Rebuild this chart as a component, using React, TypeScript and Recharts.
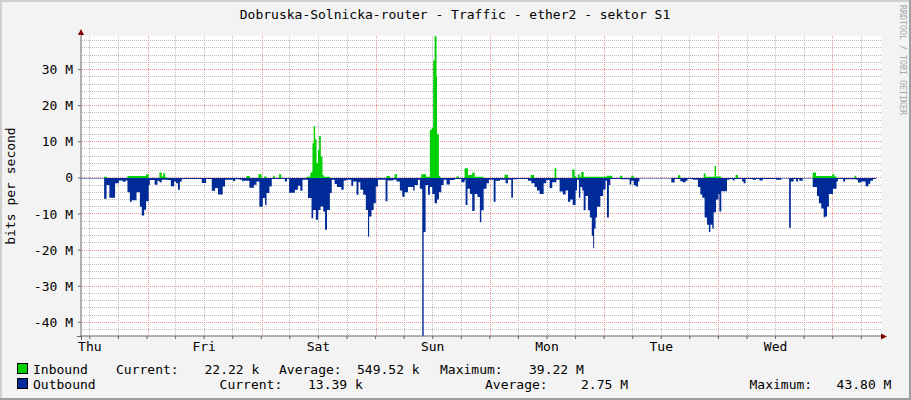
import React from 'react';
import { ComposedChart, Area, XAxis, YAxis, CartesianGrid } from 'recharts';

// time is hours since Thursday 00:00, values in Mbit/s
const dayLabels = ['Thu', 'Fri', 'Sat', 'Sun', 'Mon', 'Tue', 'Wed'];
const dayNoonHours = [12, 36, 60, 84, 108, 132, 156];
const xTicks = [12, 18, 24, 30, 36, 42, 48, 54, 60, 66, 72, 78, 84, 90, 96, 102, 108, 114, 120, 126, 132, 138, 144, 150, 156, 162, 168, 174];
const xMajorGrid = [24, 48, 72, 96, 120, 144, 168];
const xMinorGrid = [12, 18, 30, 36, 42, 54, 60, 66, 78, 84, 90, 102, 108, 114, 126, 132, 138, 150, 156, 162, 174];
const yTicks = [-40, -30, -20, -10, 0, 10, 20, 30];
const yMinorGrid = [-42, -38, -36, -34, -32, -28, -26, -24, -22, -18, -16, -14, -12, -8, -6, -4, -2, 2, 4, 6, 8, 12, 14, 16, 18, 22, 24, 26, 28, 32, 34, 36, 38];

const inboundSteps: [number, number][] = [
  [10.14, 0], [15.0, 0.3], [15.6, 0], [19.9, 0.5], [23.8, 1.0], [24.35, 0],
  [26.6, 1.5], [27.1, 0.4], [27.4, 1.3], [27.8, 0.2], [28.3, 0],
  [44.9, 0.5], [45.6, 0], [47.4, 1.0], [48.05, 0], [48.6, 0.4], [49.1, 0],
  [50.5, 0.6], [50.85, 0], [51.75, 1.0], [52.2, 0],
  [57.5, 0.3], [58.3, 1.5], [58.75, 9.6], [59.0, 14.4], [59.3, 10.7], [59.6, 4.1],
  [59.9, 7.8], [60.15, 11.6], [60.5, 5.9], [60.85, 0.8], [61.1, 0.3], [62.4, 0],
  [74.3, 0.5], [75.0, 0], [76.0, 1.0], [76.5, 0],
  [81.6, 1.0], [82.6, 0.3], [83.4, 13.3], [83.8, 13.8], [84.1, 32.5], [84.4, 39.2],
  [84.8, 28.0], [84.9, 12.1], [85.3, 0.5], [85.6, 0],
  [89.0, 0.4], [89.5, 0], [90.7, 2.7], [91.4, 0.8], [92.3, 1.5], [92.8, 0.3], [94.7, 0],
  [99.1, 0.9], [99.8, 0], [104.6, 0.8], [105.3, 0], [109.6, 2.7], [109.95, 0],
  [113.3, 2.3], [113.8, 0.4], [114.15, 0], [114.5, 1.0], [114.85, 0.3], [115.2, 1.6],
  [115.7, 0.3], [120.5, 0.6], [121.7, 0], [123.3, 0.6], [123.8, 0], [125.7, 0.6],
  [126.2, 0], [135.5, 0.7], [136.0, 0], [140.9, 1.2], [141.3, 0.3], [143.2, 3.3],
  [143.5, 0.4], [144.6, 0], [147.6, 0.8], [148.1, 0],
  [163.8, 1.5], [164.5, 0.5], [167.9, 1.0], [168.35, 0.4], [168.8, 0],
  [172.6, 0.6], [172.95, 0], [177.15, 0],
];

const outboundSteps: [number, number][] = [
  [10.14, -0.2], [15.0, -5.8], [15.5, -2.0], [16.1, -5.5], [17.3, -1.5], [18.1, -0.7],
  [18.9, -1.1], [19.5, -0.7], [19.9, -4.0], [20.4, -6.6], [20.8, -6.2], [21.8, -4.0],
  [22.5, -8.0], [22.9, -10.4], [23.4, -8.8], [23.8, -6.5], [24.35, -2.0], [24.6, -0.6],
  [25.6, -1.9], [26.2, -0.8], [26.6, -1.2], [27.1, -0.5], [28.3, -0.6], [29.0, -2.3],
  [29.7, -1.0], [30.1, -1.5], [30.5, -3.3], [30.9, -1.0], [31.3, -0.3], [35.5, -1.4],
  [36.4, -0.3], [37.6, -3.6], [38.3, -2.8], [38.9, -4.6], [39.9, -2.4], [40.4, -0.5],
  [42.1, -0.9], [42.5, -0.4], [43.5, -0.5], [44.0, -1.0], [44.2, -0.8], [45.5, -2.7],
  [46.45, -1.9], [47.0, -1.0], [47.6, -8.0], [48.3, -5.6], [48.8, -7.5], [49.1, -4.2],
  [49.7, -2.4], [50.2, -0.3], [52.95, -1.0], [53.4, -0.3], [53.85, -4.1], [55.05, -3.3],
  [55.7, -2.2], [56.2, -3.6], [56.65, -0.5], [57.8, -5.6], [58.55, -11.2], [58.9, -8.9],
  [59.45, -11.6], [59.95, -8.9], [60.45, -7.9], [61.0, -9.3], [61.4, -14.4], [61.8, -8.9],
  [62.4, -4.2], [62.8, -0.5], [63.4, -1.7], [63.9, -2.5], [64.8, -3.3], [65.3, -0.7],
  [65.9, -0.5], [66.9, -2.2], [67.3, -1.0], [68.0, -4.7], [68.4, -1.2], [68.8, -3.3],
  [69.4, -4.7], [69.95, -8.9], [70.4, -16.3], [70.65, -10.7], [71.15, -8.9], [71.6, -7.0],
  [72.05, -2.4], [72.5, -0.5], [74.1, -6.5], [74.5, -0.7], [75.7, -0.5], [76.4, -1.0],
  [77.1, -3.5], [77.6, -5.2], [78.1, -4.0], [78.8, -2.5], [79.9, -3.5], [80.2, -2.0],
  [80.9, -0.5], [81.3, -3.0], [81.8, -43.8], [82.1, -15.0], [82.5, -2.0], [83.0, -4.7],
  [83.4, -2.5], [83.9, -4.5], [84.4, -7.0], [84.9, -6.0], [85.3, -4.0], [85.8, -2.0],
  [86.3, -0.5], [86.9, -1.8], [87.6, -0.6], [88.6, -0.3], [90.0, -1.2], [90.7, -0.5],
  [90.9, -7.5], [91.3, -3.0], [91.8, -4.5], [92.3, -9.2], [92.8, -4.5], [93.4, -5.3],
  [93.9, -12.3], [94.2, -9.0], [94.7, -3.0], [95.3, -1.5], [95.8, -0.5], [96.8, -6.6],
  [97.2, -0.8], [98.1, -0.5], [99.3, -1.5], [99.8, -0.5], [100.5, -5.5], [100.85, -0.4],
  [101.9, -0.3], [104.0, -0.8], [104.7, -1.5], [105.4, -2.5], [105.9, -3.5], [106.45, -4.5],
  [107.3, -1.5], [107.85, -0.6], [108.55, -2.8], [109.1, -1.2], [109.95, -0.5], [110.65, -3.8],
  [111.35, -4.6], [111.9, -3.5], [112.4, -6.6], [112.9, -6.0], [113.4, -7.5], [114.0, -3.5],
  [114.3, -0.5], [114.7, -5.5], [115.0, -2.5], [115.4, -3.5], [115.7, -9.0], [116.1, -5.0],
  [116.6, -9.0], [117.0, -11.0], [117.4, -16.0], [117.7, -19.5], [117.9, -14.0], [118.2, -11.0],
  [118.5, -8.0], [119.2, -5.0], [119.8, -3.2], [120.3, -0.8], [120.6, -11.0], [121.0, -2.0],
  [121.3, -0.3], [123.6, -0.4], [125.35, -1.8], [125.7, -0.8], [126.2, -2.0], [126.6, -2.4],
  [127.1, -1.0], [127.4, -0.2], [134.1, -1.3], [134.8, -0.3], [136.0, -0.9], [136.5, -1.2],
  [137.1, -0.8], [137.5, -0.3], [138.6, -0.5], [139.7, -2.5], [140.2, -4.6], [140.6, -5.5],
  [141.1, -11.0], [141.6, -13.0], [142.0, -15.0], [142.3, -13.0], [142.7, -14.0], [143.0, -9.5],
  [143.5, -6.0], [144.0, -4.5], [144.2, -9.3], [144.6, -3.7], [145.8, -0.5], [146.3, -0.3],
  [147.0, -0.7], [147.4, -0.3], [149.0, -1.0], [149.3, -1.5], [149.7, -0.3], [151.2, -0.5],
  [151.9, -0.3], [152.6, -0.7], [153.3, -0.3], [156.1, -0.5], [157.2, -0.2], [158.85, -13.8],
  [159.2, -1.0], [159.8, -0.3], [160.3, -1.0], [160.7, -0.3], [161.0, -0.8], [161.7, -0.2],
  [163.8, -2.5], [164.7, -5.0], [165.1, -7.0], [165.6, -8.5], [166.1, -11.0], [166.35, -10.7],
  [166.8, -8.0], [167.2, -4.5], [168.05, -3.0], [168.8, -1.0], [169.1, -0.3], [170.2, -1.0],
  [170.6, -0.4], [172.95, -0.5], [173.3, -1.3], [174.0, -1.0], [174.9, -2.3], [175.5, -1.6],
  [175.9, -0.8], [176.45, -0.3], [177.15, -0.3],
];

const inboundData = inboundSteps.map(([t, v]) => ({ t, v }));
const outboundData = outboundSteps.map(([t, v]) => ({ t, v }));

// grid values: minor first, then major (index tells which kind)
const yGridValues = [...yMinorGrid, ...yTicks];
const xGridValues = [...xMinorGrid, ...xMajorGrid];

const FONT = '"DejaVu Sans Mono", monospace';
const MINOR = '#BDBDBD';
const MAJOR = '#E89090';

const snap = (v: number) => Math.round(v - 0.5) + 0.5;
const snapEven = (v: number) => 2 * Math.round(v / 2) + 0.5;

const hLine = (props: any) => {
  const major = props.index >= yMinorGrid.length;
  const y = snap(props.y1);
  const x1 = 2 * Math.ceil((props.x1 + 1) / 2);
  return (
    <line
      key={`h-${props.index}`}
      x1={x1}
      y1={y}
      x2={Math.round(props.x2)}
      y2={y}
      stroke={major ? MAJOR : MINOR}
      strokeWidth={1}
      strokeDasharray="1 1"
    />
  );
};

const vLine = (props: any) => {
  const major = props.index >= xMinorGrid.length;
  const x = major ? snapEven(props.x1) : snap(props.x1);
  return (
    <line
      key={`v-${props.index}`}
      x1={x}
      y1={2 * Math.round(props.y1 / 2)}
      x2={x}
      y2={Math.round(props.y2)}
      stroke={major ? MAJOR : MINOR}
      strokeWidth={1}
      strokeDasharray="1 1"
    />
  );
};

const XTick = (props: any) => {
  const { x, y, payload } = props;
  const idx = dayNoonHours.indexOf(payload.value);
  if (idx < 0) return null;
  return (
    <text x={x} y={y} dy="0.71em" textAnchor="middle" fontFamily={FONT} fontSize={13} fill="#000">
      {dayLabels[idx]}
    </text>
  );
};

const YTick = (props: any) => {
  const { x, y, payload } = props;
  const v = payload.value;
  return (
    <text x={x} y={y} dy="0.355em" textAnchor="end" fontFamily={FONT} fontSize={13} fill="#000">
      {v === 0 ? '0' : `${v} M`}
    </text>
  );
};

export default function App() {
  return (
    <div style={{ position: 'fixed', left: 0, top: 0, width: 911, height: 400, background: '#F3F3F3' }}>
      <ComposedChart width={911} height={400} margin={{ top: 36, right: 30, bottom: 44, left: 8 }}>
        <CartesianGrid
          fill="#FFFFFF"
          stroke={MINOR}
          horizontalValues={yGridValues}
          verticalValues={xGridValues}
          horizontal={hLine}
          vertical={vLine}
        />
        <XAxis
          dataKey="t"
          type="number"
          domain={[10.14, 178.14]}
          allowDataOverflow
          ticks={xTicks}
          interval={0}
          tick={<XTick />}
          tickSize={3}
          tickMargin={3}
          height={20}
          axisLine={{ stroke: '#666' }}
          tickLine={{ stroke: '#666' }}
        />
        <YAxis
          type="number"
          domain={[-43.8, 39.3]}
          allowDataOverflow
          ticks={yTicks}
          interval={0}
          tick={<YTick />}
          tickSize={3}
          tickMargin={5}
          width={73}
          axisLine={{ stroke: '#666' }}
          tickLine={{ stroke: '#666' }}
        />
        <Area
          data={inboundData}
          dataKey="v"
          type="stepAfter"
          baseValue={0}
          stroke="none"
          fill="#00CF00"
          fillOpacity={1}
          isAnimationActive={false}
        />
        <Area
          data={outboundData}
          dataKey="v"
          type="stepAfter"
          baseValue={0}
          stroke="none"
          fill="#002A97"
          fillOpacity={1}
          isAnimationActive={false}
        />
      </ComposedChart>
      <svg width={911} height={400} style={{ position: 'absolute', left: 0, top: 0, pointerEvents: 'none' }}>
        <rect x={0} y={0} width={911} height={2} fill="#CFCFCF" />
        <rect x={0} y={0} width={2} height={400} fill="#CFCFCF" />
        <rect x={0} y={398} width={911} height={2} fill="#9E9E9E" />
        <rect x={909} y={0} width={2} height={400} fill="#9E9E9E" />
        <line x1={81} y1={32} x2={81} y2={36} stroke="#666" shapeRendering="crispEdges" />
        <line x1={81} y1={336} x2={81} y2={340} stroke="#666" shapeRendering="crispEdges" />
        <line x1={77} y1={336.5} x2={81} y2={336.5} stroke="#666" />
        <line x1={881} y1={336.5} x2={883} y2={336.5} stroke="#666" />
        <polygon points="78,35 84,35 81,29" fill="#800000" />
        <polygon points="881,333.5 881,339.5 887,336.5" fill="#800000" />
        <text x={455} y={19} textAnchor="middle" fontFamily={FONT} fontSize={13} fill="#000">
          Dobruska-Solnicka-router - Traffic - ether2 - sektor S1
        </text>
        <text transform="translate(15,186) rotate(-90)" textAnchor="middle" fontFamily={FONT} fontSize={13} fill="#000">
          bits per second
        </text>
        <text transform="translate(899.5,5) rotate(90)" fontFamily={FONT} fontSize={8.3} fill="#A8A8A8">
          RRDTOOL / TOBI OETIKER
        </text>
        <rect x={17.5} y={363.5} width={10} height={10} fill="#00CF00" stroke="#000" strokeWidth={1} />
        <rect x={17.5} y={378.5} width={10} height={10} fill="#002A97" stroke="#000" strokeWidth={1} />
        <g fontFamily={FONT} fontSize={13} fill="#000">
          <text x={33} y={373.5}>Inbound</text>
          <text x={116} y={373.5}>Current:</text>
          <text x={204.5} y={373.5}>22.22 k</text>
          <text x={279} y={373.5}>Average:</text>
          <text x={357} y={373.5}>549.52 k</text>
          <text x={440} y={373.5}>Maximum:</text>
          <text x={529} y={373.5}>39.22 M</text>
          <text x={33} y={388.5}>Outbound</text>
          <text x={219.6} y={388.5}>Current:</text>
          <text x={308} y={388.5}>13.39 k</text>
          <text x={485} y={388.5}>Average:</text>
          <text x={581} y={388.5}>2.75 M</text>
          <text x={749.5} y={388.5}>Maximum:</text>
          <text x={836.6} y={388.5}>43.80 M</text>
        </g>
      </svg>
    </div>
  );
}
